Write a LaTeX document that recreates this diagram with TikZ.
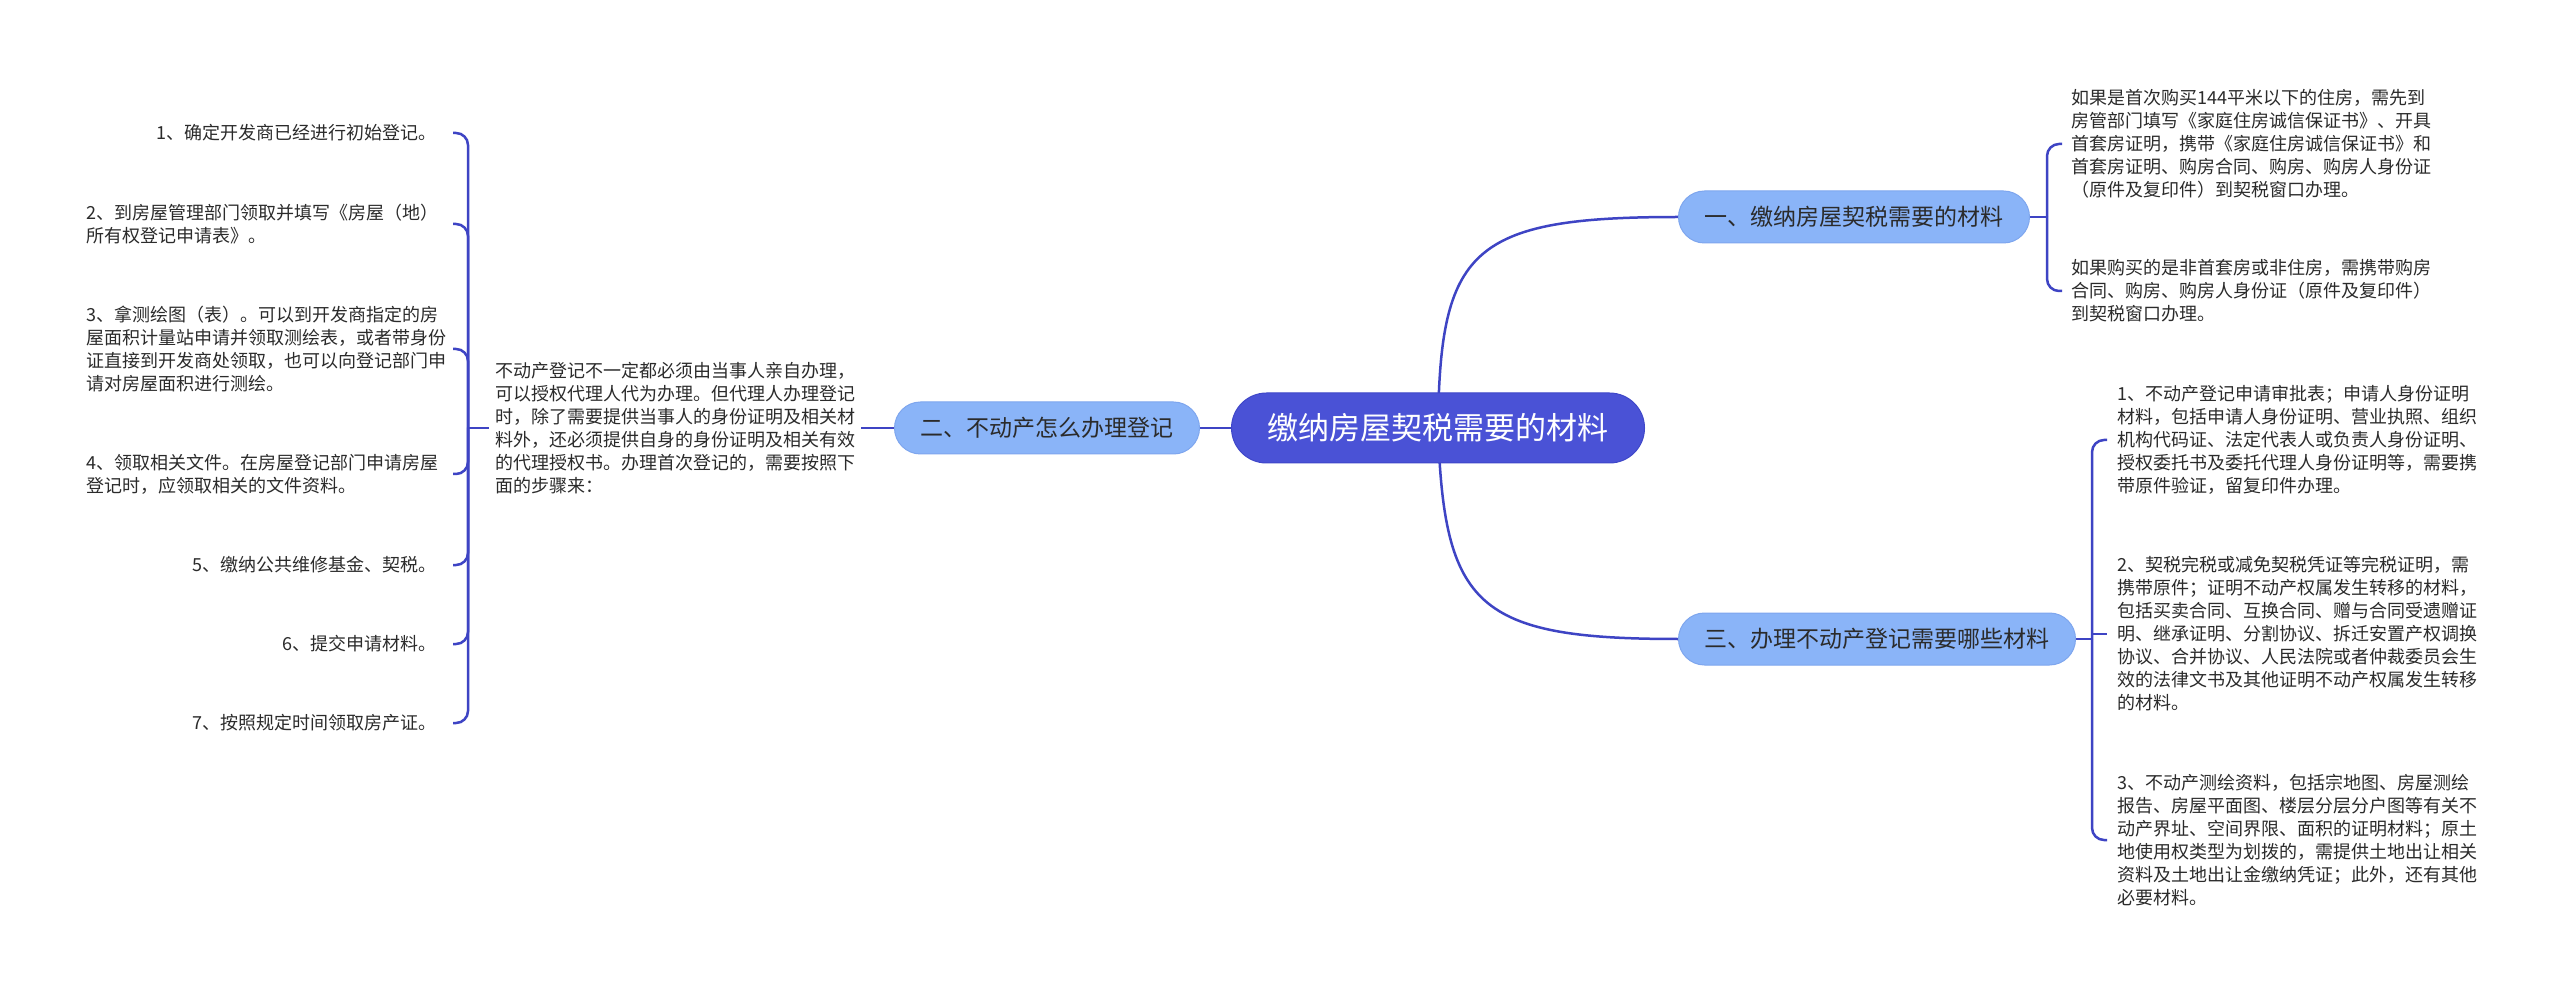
\documentclass[tikz,border=0pt]{standalone}
\usepackage{fontspec}
\newfontfamily\cjk{Noto Sans CJK SC}
\usetikzlibrary{calc}
\pgfdeclarelayer{bg}
\pgfsetlayers{bg,main}
\definecolor{rootc}{HTML}{4A52D6}
\definecolor{rootd}{HTML}{3F47C9}
\definecolor{brc}{HTML}{8AB4F8}
\definecolor{brd}{HTML}{7EA6EE}
\definecolor{linec}{HTML}{3E44C4}
\definecolor{txt}{HTML}{2B2B2B}
\begin{document}
\begin{tikzpicture}[x=0.5pt,y=-0.5pt,
 conn/.style={draw=linec, line width=1.25pt},
 brk/.style={conn, rounded corners=6pt},
 leaf/.style={inner sep=0pt, align=left, text=txt, font=\cjk\fontsize{9pt}{11.5pt}\selectfont},
 branch/.style={fill=brc, draw=brd, line width=0.5pt, rounded corners=13pt, minimum height=26pt, inner xsep=13pt, inner ysep=0pt, text=txt, font=\cjk\fontsize{11.5pt}{13pt}\selectfont},
 rootnode/.style={fill=rootc, draw=rootd, line width=0.5pt, rounded corners=17.5pt, minimum height=35pt, inner xsep=18pt, inner ysep=0pt, text=white, font=\cjk\fontsize{15.5pt}{17pt}\selectfont}]
\useasboundingbox (0,0) rectangle (2560,994);

% main nodes
\node[rootnode] (root) at (1438,428) {缴纳房屋契税需要的材料};
\node[branch, anchor=west] (b1) at (1678,217) {一、缴纳房屋契税需要的材料};
\node[branch, anchor=east] (b2) at (1200,428) {二、不动产怎么办理登记};
\node[branch, anchor=west] (b3) at (1678,639) {三、办理不动产登记需要哪些材料};

% branch 1 leaves
\node[leaf, anchor=west] (a1) at (2071,144) {如果是首次购买144平米以下的住房，需先到\\房管部门填写《家庭住房诚信保证书》、开具\\首套房证明，携带《家庭住房诚信保证书》和\\首套房证明、购房合同、购房、购房人身份证\\（原件及复印件）到契税窗口办理。};
\node[leaf, anchor=west] (a2) at (2071,291) {如果购买的是非首套房或非住房，需携带购房\\合同、购房、购房人身份证（原件及复印件）\\到契税窗口办理。};

% branch 3 leaves
\node[leaf, anchor=west] (c1) at (2117,440) {1、不动产登记申请审批表；申请人身份证明\\材料，包括申请人身份证明、营业执照、组织\\机构代码证、法定代表人或负责人身份证明、\\授权委托书及委托代理人身份证明等，需要携\\带原件验证，留复印件办理。};
\node[leaf, anchor=west] (c2) at (2117,634) {2、契税完税或减免契税凭证等完税证明，需\\携带原件；证明不动产权属发生转移的材料，\\包括买卖合同、互换合同、赠与合同受遗赠证\\明、继承证明、分割协议、拆迁安置产权调换\\协议、合并协议、人民法院或者仲裁委员会生\\效的法律文书及其他证明不动产权属发生转移\\的材料。};
\node[leaf, anchor=west] (c3) at (2117,840) {3、不动产测绘资料，包括宗地图、房屋测绘\\报告、房屋平面图、楼层分层分户图等有关不\\动产界址、空间界限、面积的证明材料；原土\\地使用权类型为划拨的，需提供土地出让相关\\资料及土地出让金缴纳凭证；此外，还有其他\\必要材料。};

% branch 2 description
\node[leaf, anchor=west] (d) at (495,428) {不动产登记不一定都必须由当事人亲自办理，\\可以授权代理人代为办理。但代理人办理登记\\时，除了需要提供当事人的身份证明及相关材\\料外，还必须提供自身的身份证明及相关有效\\的代理授权书。办理首次登记的，需要按照下\\面的步骤来：};

% steps
\node[leaf, anchor=east] (s1) at (437,133) {1、确定开发商已经进行初始登记。};
\node[leaf, anchor=west] (s2) at (86,224) {2、到房屋管理部门领取并填写《房屋（地）\\所有权登记申请表》。};
\node[leaf, anchor=west] (s3) at (86,349) {3、拿测绘图（表）。可以到开发商指定的房\\屋面积计量站申请并领取测绘表，或者带身份\\证直接到开发商处领取，也可以向登记部门申\\请对房屋面积进行测绘。};
\node[leaf, anchor=west] (s4) at (86,474) {4、领取相关文件。在房屋登记部门申请房屋\\登记时，应领取相关的文件资料。};
\node[leaf, anchor=east] (s5) at (437,565) {5、缴纳公共维修基金、契税。};
\node[leaf, anchor=east] (s6) at (437,644) {6、提交申请材料。};
\node[leaf, anchor=east] (s7) at (437,723) {7、按照规定时间领取房产证。};

% junction coordinates
\coordinate (j1) at (2047,217);
\coordinate (e1) at (2062,217);
\coordinate (j3) at (2092,639);
\coordinate (e3) at (2107,639);
\coordinate (jL) at (468,428);
\coordinate (eL) at (453,428);

\begin{pgfonlayer}{bg}
\fill[white] (0,0) rectangle (2560,994);
\draw[conn] (root.center) .. controls (1440,250) and (1470,217) .. (b1.west);
\draw[conn] (root.center) .. controls (1444,606) and (1476,639) .. (b3.west);
\draw[conn] (root.west) -- (b2.east);

\draw[conn] (b1.east) -- (j1);
\draw[brk] (j1) |- (e1 |- a1.west);
\draw[brk] (j1) |- (e1 |- a2.west);

\draw[conn] (b3.east) -- (j3);
\draw[brk] (j3) |- (e3 |- c1.west);
\draw[conn] (j3) |- (e3 |- c2.west);
\draw[brk] (j3) |- (e3 |- c3.west);

\draw[conn] (b2.west) -- ($(d.east)+(5,0)$);
\draw[conn] ($(d.west)+(-6,0)$) -- (jL);
\draw[brk] (jL) |- (eL |- s1.east);
\draw[brk] (jL) |- (eL |- s2.east);
\draw[brk] (jL) |- (eL |- s3.east);
\draw[brk] (jL) |- (eL |- s4.east);
\draw[brk] (jL) |- (eL |- s5.east);
\draw[brk] (jL) |- (eL |- s6.east);
\draw[brk] (jL) |- (eL |- s7.east);
\end{pgfonlayer}
\end{tikzpicture}
\end{document}
